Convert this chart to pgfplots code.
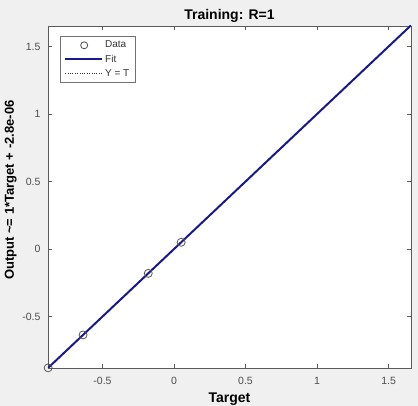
\documentclass[border=0pt]{standalone}
\usepackage{pgfplots}
\pgfplotsset{compat=1.18}
\usepackage{fontspec}
\setmainfont{Liberation Sans}
\usetikzlibrary{backgrounds,calc}
\definecolor{bgc}{RGB}{240,240,240}
\definecolor{fitc}{RGB}{25,25,140}
\definecolor{axc}{RGB}{90,90,90}
\begin{document}
\begin{tikzpicture}
\begin{axis}[
  scale only axis,
  width=363pt, height=342pt,
  xmin=-0.881, xmax=1.657,
  ymin=-0.881, ymax=1.652,
  xtick={-0.5,0,0.5,1,1.5},
  ytick={-0.5,0,0.5,1,1.5},
  xticklabels={-0.5,0,0.5,1,1.5},
  yticklabels={-0.5,0,0.5,1,1.5},
  tick align=inside,
  major tick length=4pt,
  axis line style={axc},
  tick style={axc},
  tick label style={font=\fontsize{10.5}{11}\selectfont, text=black!70},
  xticklabel style={anchor=center, yshift=-13pt},
  yticklabel style={anchor=east, xshift=-4pt},
  title={\textbf{Training: R=1}},
  title style={font=\fontsize{14}{15}\selectfont, at={(axis description cs:0.5,1)}, anchor=center, yshift=4pt},
  xlabel={\textbf{Target}},
  ylabel={\textbf{Output \textasciitilde= 1*Target + -2.8e-06}},
  xlabel style={font=\fontsize{14}{15}\selectfont, at={(axis description cs:0.5,0)}, anchor=center, yshift=-31pt},
  ylabel style={font=\fontsize{13}{14}\selectfont, at={(axis description cs:-0.103,0.52)}, anchor=center},
  axis background/.style={fill=white},
  legend style={at={(0.033,0.971)}, anchor=north west, font=\fontsize{10}{11}\selectfont, draw=black!55, fill=white, row sep=1.5pt, inner xsep=4pt, inner ysep=3pt, text=black!80},
  legend cell align=left,
]
\addlegendimage{legend image code/.code={\draw[black!70,thick] (19pt,0pt) circle (3.5pt);}}
\addlegendentry{Data}
\addlegendimage{legend image code/.code={\draw[fitc,line width=2pt] (0pt,0pt) -- (37pt,0pt);}}
\addlegendentry{Fit}
\addlegendimage{legend image code/.code={\draw[black!80,dotted] (0pt,0pt) -- (37pt,0pt);}}
\addlegendentry{Y = T}
\addplot[black!80, dotted, forget plot] coordinates {(-0.881,-0.881) (1.657,1.657)};
\addplot[fitc, line width=2pt, forget plot] coordinates {(-0.881,-0.881) (1.657,1.657)};
\addplot[only marks, mark=o, mark size=4pt, draw=black!65, thick, forget plot] coordinates {
(-0.88,-0.88) (-0.636,-0.636) (-0.18,-0.18) (0.05,0.05) (1.655,1.655)};
\end{axis}
\begin{scope}[on background layer]
\fill[bgc] ($(current axis.south west)+(-48pt,-38pt)$) rectangle ($(current axis.north east)+(7pt,26pt)$);
\end{scope}
\pgfresetboundingbox
\path[use as bounding box] ($(current axis.south west)+(-48pt,-38pt)$) rectangle ($(current axis.north east)+(7pt,26pt)$);
\end{tikzpicture}
\end{document}
